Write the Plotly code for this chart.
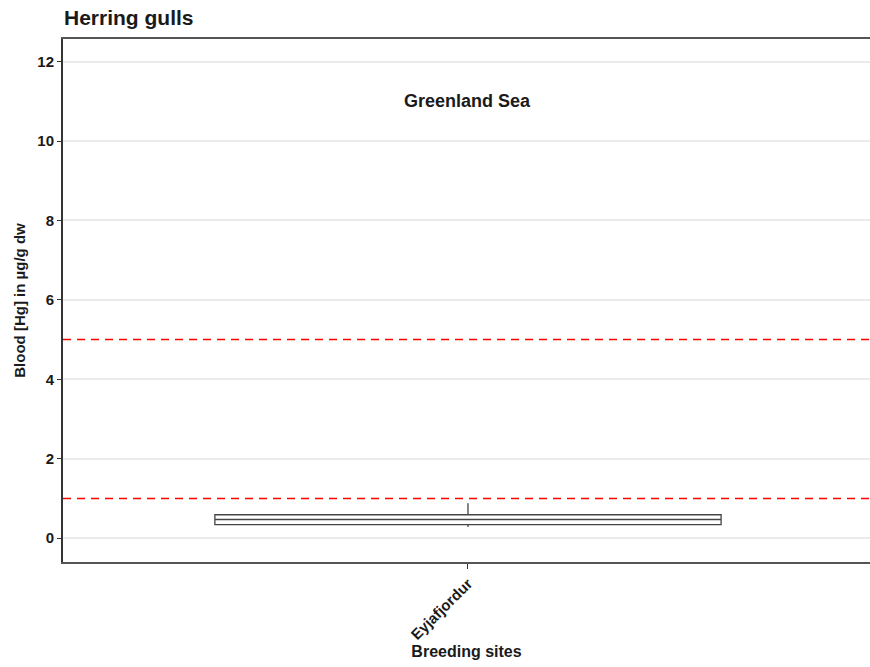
import plotly.graph_objects as go

# Data
sites = ["Eyjafjordur"]
q1 = [0.34]
median = [0.47]
q3 = [0.59]
lower_whisker = [0.28]
upper_whisker = [0.88]
threshold_lines = [1, 5]
region_label = "Greenland Sea"
region_label_y = 11
region_bar_y = 10
y_ticks = [0, 2, 4, 6, 8, 10, 12]

font_family = "Liberation Sans, Arial, sans-serif"
txt = "#1a1a1a"

fig = go.Figure()

fig.add_trace(go.Box(
    x=sites, q1=q1, median=median, q3=q3,
    lowerfence=lower_whisker, upperfence=upper_whisker,
    fillcolor="white", line=dict(color="#444444", width=1.3),
    whiskerwidth=0, boxpoints=False, showlegend=False,
    hoverinfo="skip",
))

# thicker median line (ggplot fatten)
fig.add_trace(go.Scatter(
    x=[-0.375, 0.375], y=[median[0], median[0]], mode="lines",
    line=dict(color="#333333", width=3), showlegend=False, hoverinfo="skip",
))

for yv in threshold_lines:
    fig.add_hline(y=yv, line=dict(color="red", width=1.5, dash="8px,6px"), layer="above")

# region segment
fig.add_trace(go.Scatter(
    x=[-0.4, 0.4], y=[region_bar_y, region_bar_y], mode="lines",
    line=dict(color="black", width=2.8), showlegend=False, hoverinfo="skip",
))

fig.add_annotation(x=0, y=region_label_y, text="<b>" + region_label + "</b>",
                   showarrow=False, font=dict(size=18, color=txt, family=font_family))

fig.update_layout(
    width=870, height=667,
    margin=dict(l=63, r=0, t=39, b=105),
    paper_bgcolor="white", plot_bgcolor="white",
    boxgap=0.25, boxgroupgap=0,
    title=dict(text="<b>Herring gulls</b>", x=64/870, xanchor="left",
               y=1 - 18/667, yanchor="middle",
               font=dict(size=21, color=txt, family=font_family)),
    font=dict(family=font_family, color=txt),
)

fig.update_xaxes(
    type="category", range=[-0.6, 0.5956],
    showline=True, linecolor="#555555", linewidth=2, mirror=True,
    ticks="outside", ticklen=5, tickcolor="#333333",
    tickangle=-45, tickfont=dict(size=15, color=txt, family=font_family),
    tickprefix="<b>", ticksuffix="</b>",
    showgrid=False, zeroline=False,
    title=dict(text="<b>Breeding sites</b>", font=dict(size=16, color=txt), standoff=4),
)

fig.update_yaxes(
    range=[-0.6, 12.57], tickvals=y_ticks,
    ticktext=["<b>%d</b>" % v for v in y_ticks],
    showline=True, linecolor="#333333", linewidth=2, mirror=False,
    ticks="outside", ticklen=4, tickcolor="#333333",
    tickfont=dict(size=15, color=txt, family=font_family),
    showgrid=True, gridcolor="#EBEBEB", gridwidth=1.5, zeroline=False,
    title=dict(text="<b>Blood [Hg] in µg/g dw</b>", font=dict(size=15, color=txt), standoff=8),
)

fig.write_html(
    "out.html",
    config={"displayModeBar": False},
    post_script="document.body.style.margin='0';document.body.style.overflow='hidden';",
)
